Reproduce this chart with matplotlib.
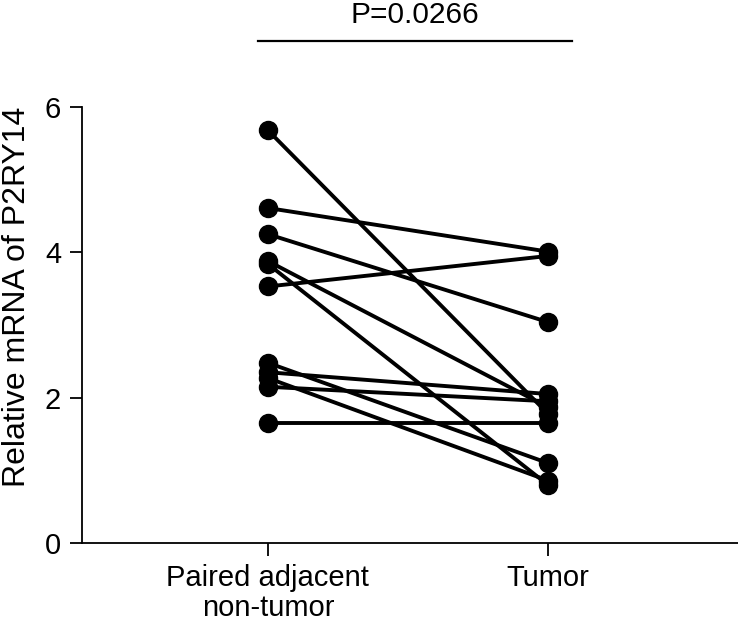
import matplotlib
matplotlib.use("Agg")
import matplotlib.pyplot as plt

plt.rcParams['font.family'] = ['Liberation Sans', 'DejaVu Sans']

categories = ["Paired adjacent\nnon-tumor", "Tumor"]
adjacent = [5.68, 4.61, 4.25, 3.88, 3.84, 3.53, 2.48, 2.35, 2.27, 2.15, 1.65]
tumor    = [1.78, 4.01, 3.04, 1.87, 0.80, 3.95, 1.10, 2.05, 0.86, 1.95, 1.65]
p_text = "P=0.0266"
yticks = [0, 2, 4, 6]

fig = plt.figure(figsize=(7.38, 6.32), dpi=100)
ax = fig.add_axes([82/738, 89/632, (738-82)/738, (543-107)/632])

for a, t in zip(adjacent, tumor):
    ax.plot([0, 1], [a, t], color='black', lw=2.8, marker='o', ms=13,
            solid_capstyle='round', clip_on=False, zorder=3)

ax.set_xlim(-0.664, 1.679)
ax.set_ylim(0, 6)
ax.set_yticks(yticks)
ax.set_yticklabels([str(v) for v in yticks])
ax.set_xticks([0, 1])
ax.set_xticklabels(categories, fontsize=21, linespacing=1.1)
ax.tick_params(axis='y', labelsize=21, length=9, width=1.3, pad=6)
ax.tick_params(axis='x', length=9, width=1.3, pad=6)
for s in ['top', 'right']:
    ax.spines[s].set_visible(False)
for s in ['left', 'bottom']:
    ax.spines[s].set_linewidth(1.3)

# y label placed explicitly
fig.text(17/738, 1 - 297/632, "Relative mRNA of P2RY14", rotation=90,
         ha='center', va='center', fontsize=23)

# significance bracket
ax.plot([-0.036, 1.086], [6.91, 6.91], color='black', lw=1.6, clip_on=False)
ax.text(0.525, 7.26, p_text, ha='center', va='center', fontsize=21.5, clip_on=False)

fig.savefig("out.png", dpi=100)
